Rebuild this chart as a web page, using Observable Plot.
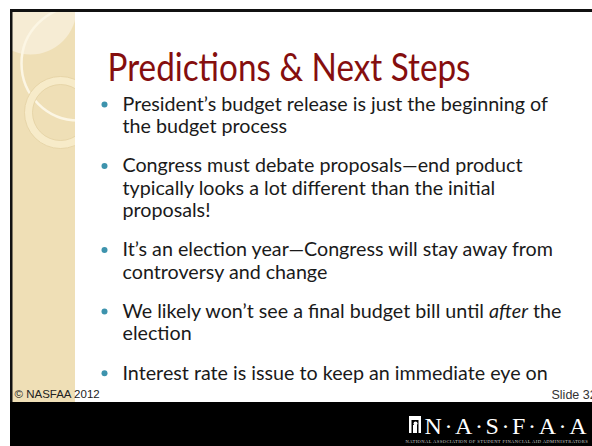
<!DOCTYPE html>
<html>
<head>
<meta charset="utf-8">
<script src="https://cdn.jsdelivr.net/npm/d3@7"></script>
<script src="https://cdn.jsdelivr.net/npm/@observablehq/plot@0.6"></script>
<style>
  html, body { margin: 0; padding: 0; background: #ffffff; }
  #chart svg { display: block; }
</style>
</head>
<body>
<div id="chart"></div>
<script>
// ---- content ----
const title = "Predictions & Next Steps";
const bullets = [
  ["President’s budget release is just the beginning of", "the budget process"],
  ["Congress must debate proposals—end product", "typically looks a lot different than the initial", "proposals!"],
  ["It’s an election year—Congress will stay away from", "controversy and change"],
  ["We likely won’t see a final budget bill until after the", "election"],
  ["Interest rate is issue to keep an immediate eye on"]
];
const italicWords = ["after"];
const footerLeft = "© NASFAA 2012";
const footerRight = "Slide 32";
const logoText = "N·A·S·F·A·A";
const logoSub = "NATIONAL ASSOCIATION OF STUDENT FINANCIAL AID ADMINISTRATORS";

// ---- layout ----
const W = 592, H = 446;
const bodySize = 19.7, titleSize = 38, titleWidth = 363;
const lineH = 22.3, paraGap = 17, firstLineY = 104;
const textX = 122, bulletX = 104;

const rows = [];
let li = 0;
bullets.forEach((lines, bi) => {
  lines.forEach((text, j) => {
    rows.push({text, first: j === 0, y: firstLineY + li * lineH + bi * paraGap});
    li++;
  });
});

const beige = "#efdfb6";
const font = "Lato, 'Open Sans', sans-serif";
const sans = "'Liberation Sans', Arial, sans-serif";
const serif = "'Liberation Serif', 'DejaVu Serif', serif";

const plot = Plot.plot({
  width: W, height: H,
  marginTop: 0, marginRight: 0, marginBottom: 0, marginLeft: 0,
  x: {domain: [0, W], range: [0, W], axis: null},
  y: {domain: [0, H], range: [0, H], axis: null},
  style: {background: "#ffffff", fontFamily: font, overflow: "hidden"},
  marks: [
    // beige side panel with decorative circles
    Plot.rect([0], {x1: 12, x2: 75, y1: 12, y2: 402, fill: beige}),
    Plot.dot([0], {x: 30, y: 8, r: 46, fill: "#f6ecd4", stroke: "none"}),
    Plot.dot([0], {x: 78, y: 63, r: 57, fill: "none", stroke: "#fcf6e4", strokeWidth: 2.5}),
    Plot.dot([0], {x: 60, y: 112, r: 32, fill: "none", stroke: "#f7ebc9", strokeWidth: 8}),
    Plot.dot([0], {x: 60, y: 112, r: 36, fill: "none", stroke: "#e3d0a2", strokeWidth: 0.8}),
    Plot.dot([0], {x: 60, y: 112, r: 28, fill: "none", stroke: "#e3d0a2", strokeWidth: 0.8}),
    // white slide area & outer margins
    Plot.rect([0], {x1: 75, x2: W, y1: 12, y2: 402, fill: "#ffffff"}),
    Plot.rect([0], {x1: 0, x2: W, y1: 0, y2: 9, fill: "#ffffff"}),
    Plot.rect([0], {x1: 0, x2: 10, y1: 0, y2: H, fill: "#ffffff"}),
    // black borders and footer bar
    Plot.rect([0], {x1: 10, x2: W, y1: 9, y2: 12, fill: "#111111"}),
    Plot.rect([0], {x1: 10, x2: 12.5, y1: 9, y2: H, fill: "#111111"}),
    Plot.rect([0], {x1: 10, x2: W, y1: 402, y2: H, fill: "#000000"}),
    // title
    Plot.text([title], {x: 107, y: 68, text: d => d, textAnchor: "start", lineAnchor: "middle",
      fontSize: titleSize, fill: "#850e0e", fontFamily: font}),
    // bullets
    Plot.dot(rows.filter(d => d.first), {x: bulletX, y: d => d.y, r: 3, fill: "#3d93ad", stroke: "none"}),
    Plot.text(rows, {x: textX, y: d => d.y, text: d => d.text, textAnchor: "start", lineAnchor: "middle",
      fontSize: bodySize, fill: "#1a1a1a", fontFamily: font}),
    // footer
    Plot.text([footerLeft], {x: 14, y: 394, text: d => d, textAnchor: "start", lineAnchor: "middle",
      fontSize: 11.5, fill: "#222222", fontFamily: sans}),
    Plot.text([footerRight], {x: 551, y: 394, text: d => d, textAnchor: "start", lineAnchor: "middle",
      fontSize: 12.5, fill: "#333333", fontFamily: sans}),
    // logo
    Plot.rect([0], {x1: 409, x2: 421, y1: 416, y2: 433, fill: "#ffffff"}),
    Plot.rect([0], {x1: 411.5, x2: 418.5, y1: 420, y2: 433, fill: "#000000"}),
    Plot.dot([0], {x: 415, y: 423, r: 2, fill: "#ffffff", stroke: "none"}),
    Plot.rect([0], {x1: 413, x2: 417, y1: 425, y2: 433, fill: "#ffffff"}),
    Plot.text([logoText], {x: 424, y: 425.5, text: d => d, textAnchor: "start", lineAnchor: "middle",
      fontSize: 24, fill: "#ffffff", fontFamily: serif}),
    Plot.text([logoSub], {x: 405, y: 441, text: d => d, textAnchor: "start", lineAnchor: "middle",
      fontSize: 4.6, fill: "#cccccc", fontFamily: serif})
  ]
});

// post-layout text adjustments (font substitution compensation)
plot.querySelectorAll("text").forEach(t => {
  const s = t.textContent;
  if (s === title) {
    t.setAttribute("textLength", titleWidth);
    t.setAttribute("lengthAdjust", "spacingAndGlyphs");
  } else if (s === logoText) {
    t.style.letterSpacing = "2.6px";
  } else if (s === logoSub) {
    t.style.letterSpacing = "0.4px";
  }
});

// italic emphasis inside body lines
plot.querySelectorAll("text").forEach(t => {
  const s = t.textContent;
  italicWords.forEach(w => {
    const re = new RegExp(`(^|\\s)(${w})(\\s|$)`);
    const m = s.match(re);
    if (m && s.length > w.length + 5) {
      const idx = m.index + m[1].length;
      t.textContent = "";
      const parts = [[s.slice(0, idx), false], [w, true], [s.slice(idx + w.length), false]];
      parts.forEach(([txt, it]) => {
        const ts = document.createElementNS("http://www.w3.org/2000/svg", "tspan");
        ts.textContent = txt;
        if (it) ts.setAttribute("font-style", "italic");
        t.appendChild(ts);
      });
    }
  });
});

document.getElementById("chart").appendChild(plot);
</script>
</body>
</html>
